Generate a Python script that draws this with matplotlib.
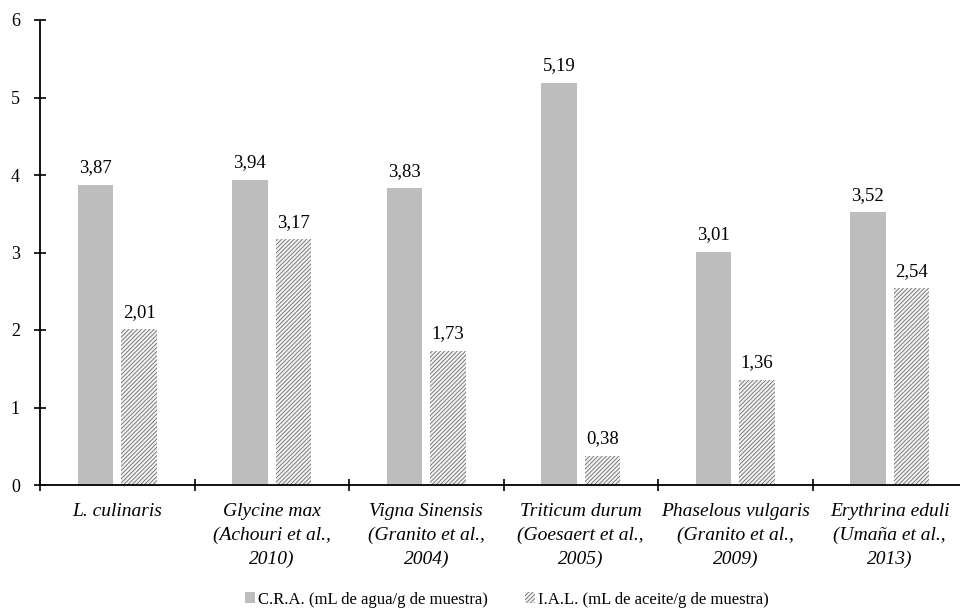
import matplotlib
matplotlib.use("Agg")
import matplotlib.pyplot as plt
import matplotlib.ticker as mticker
import numpy as np
from matplotlib.patches import Patch

plt.rcParams['font.family'] = ['Liberation Serif', 'DejaVu Serif']
plt.rcParams['hatch.linewidth'] = 0.6

categories = ["L. culinaris",
              "Glycine max\n(Achouri et al.,\n2010)",
              "Vigna Sinensis\n(Granito et al.,\n2004)",
              "Triticum durum\n(Goesaert et al.,\n2005)",
              "Phaselous vulgaris\n(Granito et al.,\n2009)",
              "Erythrina eduli\n(Umaña et al.,\n2013)"]
cra = [3.87, 3.94, 3.83, 5.19, 3.01, 3.52]
ial = [2.01, 3.17, 1.73, 0.38, 1.36, 2.54]
series_names = ["C.R.A. (mL de agua/g de muestra)", "I.A.L. (mL de aceite/g de muestra)"]
yticks = [0, 1, 2, 3, 4, 5, 6]

def fmt(v):
    return f"{v:.2f}".replace(".", ",")

fig = plt.figure(figsize=(9.6, 6.15), dpi=100)
ax = fig.add_axes([40/960, 1-485/615, 927/960, (485-20)/615])

x = np.arange(len(categories))
w = 0.23
off = 0.142
gray = "#BDBDBD"
hatch_col = "#6a6a6a"
ax.bar(x - off, cra, w, color=gray, edgecolor="none")
ax.bar(x + off, ial, w, color="#f2f2f2", edgecolor=hatch_col, hatch="////////", linewidth=0)

for xi, v in zip(x - off, cra):
    ax.text(xi, v + 0.11, fmt(v), ha="center", va="bottom", fontsize=13.5)
for xi, v in zip(x + off, ial):
    ax.text(xi, v + 0.11, fmt(v), ha="center", va="bottom", fontsize=13.5)

ax.set_xlim(-0.5, 5.5)
ax.set_ylim(0, 6)
ax.set_yticks(yticks)
ax.set_yticklabels([str(t) for t in yticks], fontsize=13)
ax.set_xticks(np.arange(-0.5, 5.5, 1.0))
ax.set_xticklabels([])
ax.xaxis.set_minor_locator(mticker.FixedLocator(x))
ax.xaxis.set_minor_formatter(mticker.FixedFormatter(categories))
ax.tick_params(axis="x", which="minor", length=0, pad=13, labelsize=14)
for lab in ax.xaxis.get_minorticklabels():
    lab.set_fontstyle("italic")
    lab.set_linespacing(1.5)
ax.tick_params(axis="both", which="major", direction="inout", length=9, width=1.2, color="black")
ax.tick_params(axis="y", pad=10)

for s in ["top", "right"]:
    ax.spines[s].set_visible(False)
for s in ["left", "bottom"]:
    ax.spines[s].set_linewidth(1.3)

handles = [Patch(facecolor=gray, edgecolor="none", label=series_names[0]),
           Patch(facecolor="#f2f2f2", edgecolor=hatch_col, hatch="////////", linewidth=0, label=series_names[1])]
fig.legend(handles=handles, loc="center", bbox_to_anchor=(0.528, 0.025), ncol=2, frameon=False,
           fontsize=12, handlelength=0.6, handleheight=0.6, handletextpad=0.2, columnspacing=2.2)

fig.savefig("out.png", dpi=100)
